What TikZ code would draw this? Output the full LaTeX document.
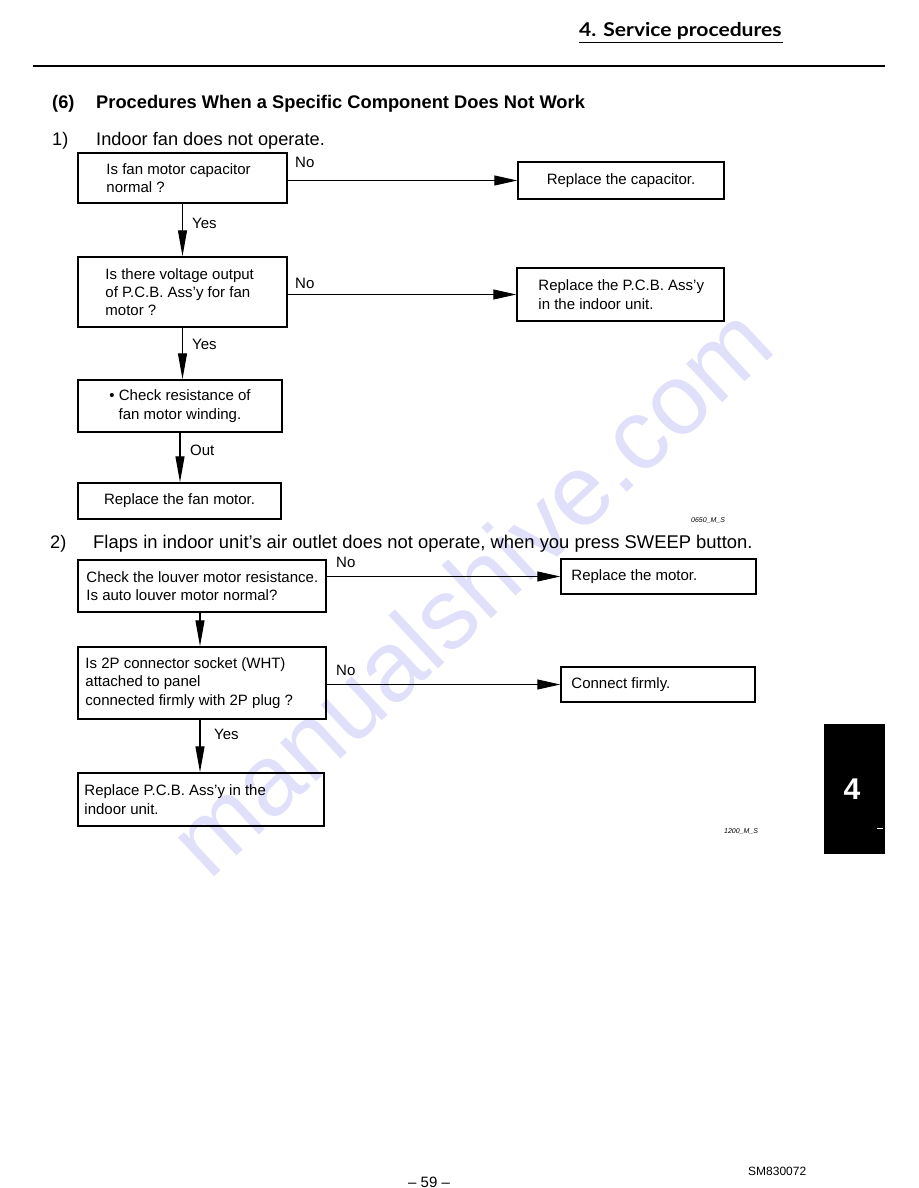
\documentclass[tikz,border=0pt]{standalone}
\usepackage{fontspec}
\setmainfont{Liberation Sans}
\newfontfamily\hdrfont{Lato}
\usetikzlibrary{arrows.meta}
\definecolor{wm}{RGB}{224,224,250}
\begin{document}
\begin{tikzpicture}[x=1pt,y=-1pt,
  box/.style={draw, line width=1.5pt, inner sep=0pt, rectangle},
  txt/.style={inner sep=0pt, align=left, font=\fontsize{15}{18.3}\selectfont},
  ctxt/.style={inner sep=0pt, align=center, font=\fontsize{15}{18.3}\selectfont},
  lbl/.style={inner sep=0pt, anchor=west, font=\fontsize{15}{18}\selectfont},
  harr/.style={line width=1.1pt, -{Triangle[length=23pt,width=10pt]}},
  varr/.style={line width=1.1pt, -{Triangle[length=26pt,width=9pt]}},
  head/.style={inner sep=0pt, anchor=base west, font=\fontsize{18.2}{22}\selectfont},
  tag/.style={inner sep=0pt, font=\fontsize{7}{8}\selectfont\itshape}
]
\useasboundingbox (0,0) rectangle (918,1188);

% watermark
\node[rotate=43, text=wm, inner sep=0pt, font=\fontsize{100}{100}\selectfont] (wmk) at (470,590) {manualshive.com};

% page header
\node[inner sep=0pt, anchor=base west, xscale=1.11, font=\hdrfont\bfseries\fontsize{19}{22}\selectfont] (hdr) at (579,37) {4. Service procedures};
\coordinate (ul1) at (579,42.5);
\coordinate (ul2) at (783,42.5);
\draw[line width=1.8pt] (ul1) -- (ul2);
\coordinate (rl1) at (33,66.5);
\coordinate (rl2) at (885,66.5);
\draw[line width=2pt] (rl1) -- (rl2);

% titles
\node[head, font=\bfseries\fontsize{18.2}{22}\selectfont] (n6) at (52,109) {(6)};
\node[head, font=\bfseries\fontsize{18.3}{22}\selectfont] (ttl) at (96,109) {Procedures When a Specific Component Does Not Work};
\node[head] (s1n) at (52,146) {1)};
\node[head] (s1) at (96,146) {Indoor fan does not operate.};
\node[head] (s2n) at (50,548) {2)};
\node[head, font=\fontsize{18.4}{22}\selectfont] (s2) at (93,548) {Flaps in indoor unit's air outlet does not operate, when you press SWEEP button.};

% ---------- section 1 ----------
\node[box, minimum width=209pt, minimum height=50pt] (b1) at (182.5,178) {};
\node[txt, anchor=west] (t1) at ([xshift=29pt]b1.west) {Is fan motor capacitor\\normal ?};
\node[box, minimum width=206pt, minimum height=37pt] (r1) at (621,180.5) {};
\node[ctxt] (tr1) at (r1.center) {Replace the capacitor.};

\node[box, minimum width=209pt, minimum height=70pt] (b2) at (182.5,292) {};
\node[txt, anchor=west] (t2) at ([xshift=28pt]b2.west) {Is there voltage output\\of P.C.B. Ass'y for fan\\motor ?};
\node[box, minimum width=207pt, minimum height=53pt] (r2) at (620.5,294.5) {};
\node[txt, anchor=west] (tr2) at ([xshift=22pt]r2.west) {Replace the P.C.B. Ass'y\\in the indoor unit.};

\node[box, minimum width=204pt, minimum height=52pt] (b3) at (180,406) {};
\node[ctxt] (t3) at (b3.center) {• Check resistance of\\fan motor winding.};

\node[box, minimum width=203pt, minimum height=36pt] (b4) at (179.5,501) {};
\node[ctxt] (t4) at (b4.center) {Replace the fan motor.};

\draw[harr] (b1.east |- r1.west) -- (r1.west);
\draw[harr] (b2.east |- r2.west) -- (r2.west);
\draw[varr] (b1.south) -- (b2.north);
\draw[varr] (b2.south) -- (b2.south |- b3.north);
\draw[varr] (b3.south) -- (b3.south |- b4.north);

\node[lbl] (no1) at (295,162) {No};
\node[lbl] (no2) at (295,283) {No};
\node[lbl] (yes1) at (192,223) {Yes};
\node[lbl] (yes2) at (192,344) {Yes};
\node[lbl] (out1) at (190,450) {Out};

\node[tag, anchor=west] (tg1) at (691,520) {0650\_M\_S};

% ---------- section 2 ----------
\node[box, minimum width=248pt, minimum height=52pt] (b5) at (202,586) {};
\node[txt, anchor=west] (t5) at ([xshift=9pt]b5.west) {Check the louver motor resistance.\\Is auto louver motor normal?};
\node[box, minimum width=195pt, minimum height=35pt] (r5) at (658.5,576.5) {};
\node[txt, anchor=west] (tr5) at ([xshift=11pt]r5.west) {Replace the motor.};

\node[box, minimum width=248pt, minimum height=72pt] (b6) at (202,683) {};
\node[txt, anchor=west] (t6) at ([xshift=8pt]b6.west) {Is 2P connector socket (WHT)\\attached to panel\\connected firmly with 2P plug ?};
\node[box, minimum width=194pt, minimum height=35pt] (r6) at (658,684.5) {};
\node[txt, anchor=west] (tr6) at ([xshift=11pt]r6.west) {Connect firmly.};

\node[box, minimum width=246pt, minimum height=53pt] (b7) at (201,799.5) {};
\node[txt, anchor=west] (t7) at ([xshift=7pt]b7.west) {Replace P.C.B. Ass'y in the\\indoor unit.};

\draw[harr] (b5.east |- r5.west) -- (r5.west);
\draw[harr] (b6.east |- r6.west) -- (r6.west);
\coordinate (v5) at (200,612);
\draw[varr] (b5.south -| v5) -- (b6.north -| v5);
\draw[varr] (b6.south -| v5) -- (b7.north -| v5);

\node[lbl] (no5) at (336,562) {No};
\node[lbl] (no6) at (336,670) {No};
\node[lbl] (yes5) at (214,734) {Yes};

\node[tag, anchor=west] (tg2) at (724,831) {1200\_M\_S};

% ---------- side tab ----------
\node[fill=black, minimum width=61pt, minimum height=130pt, inner sep=0pt] (tab) at (854.5,789) {};
\node[text=white, inner sep=0pt, font=\bfseries\fontsize{30}{30}\selectfont] (tabn) at (852,789) {4};
\coordinate (tk1) at (877,828);
\coordinate (tk2) at (883,828);
\draw[white, line width=1pt] (tk1) -- (tk2);

% ---------- footer ----------
\node[inner sep=0pt, anchor=base west, font=\fontsize{15}{18}\selectfont] (pg) at (408,1187) {– 59 –};
\node[inner sep=0pt, anchor=base west, font=\fontsize{12}{14}\selectfont] (code) at (748,1175) {SM830072};
\end{tikzpicture}
\end{document}
